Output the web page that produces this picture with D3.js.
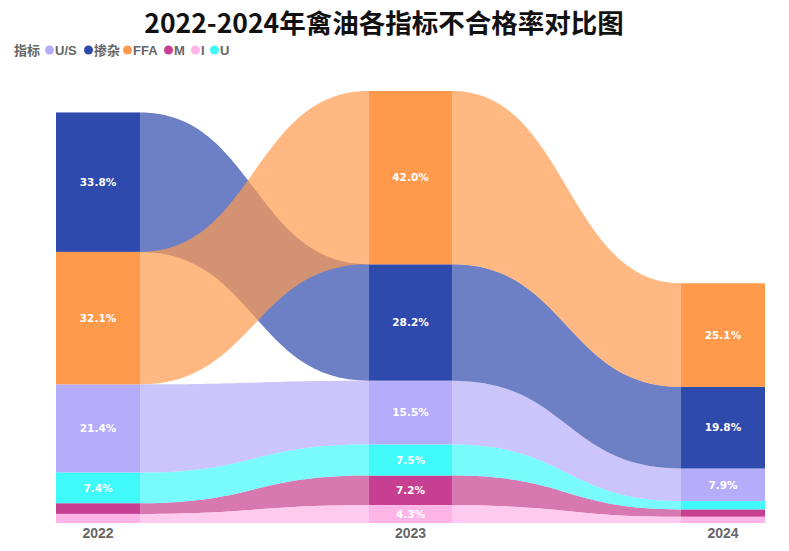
<!DOCTYPE html>
<html>
<head>
<meta charset="utf-8">
<script src="https://cdn.jsdelivr.net/npm/d3@7"></script>
<style>
  body { margin: 0; background: #fff; }
  svg text { font-family: "Liberation Sans", "Noto Sans CJK SC", sans-serif; }
</style>
</head>
<body>
<svg id="chart" width="789" height="551"></svg>
<script>
// ribbon chart: each year's stack is sorted big-to-small, ribbons link the same series
let years = ['2022', '2023', '2024'];
let keys = ['U/S', '掺杂', 'FFA', 'M', 'I', 'U'];
let colors = ['#b5acfa', '#2f4aad', '#ff9a4d', '#c63f90', '#ffb4e8', '#40f9f9'];

let vUS = [21.4, 15.5, 7.9];
let vMix = [33.8, 28.2, 19.8];
let vFFA = [32.1, 42.0, 25.1];
let vM = [2.6, 7.2, 1.8];
let vI = [2.2, 4.3, 1.5];
let vU = [7.4, 7.5, 2.0];
let values = [vUS, vMix, vFFA, vM, vI, vU];

let svg = d3.select('#chart');

let x = d3.scaleBand()
    .domain(years)
    .range([56, 765])
    .paddingInner(0.731)
    .paddingOuter(0);

let y = d3.scaleLinear()
    .domain([0, 104.7])
    .range([523, 91]);

let color = d3.scaleOrdinal().domain(keys).range(colors);

// stack per year, largest on top
let pos = {};   // pos[key][yearIndex] = {lo, hi, v}
keys.forEach(k => pos[k] = []);
years.forEach((yr, j) => {
    let order = keys.slice().sort((a, b) => values[keys.indexOf(b)][j] - values[keys.indexOf(a)][j]);
    let acc = 0;
    order.slice().reverse().forEach(k => {
        let v = values[keys.indexOf(k)][j];
        pos[k][j] = { lo: acc, hi: acc + v, v: v };
        acc += v;
    });
});

// ribbons
let ribbons = svg.append('g');
keys.forEach(k => {
    for (let j = 0; j < years.length - 1; j++) {
        let a = pos[k][j], b = pos[k][j + 1];
        let x0 = x(years[j]) + x.bandwidth();
        let x1 = x(years[j + 1]);
        let xm = (x0 + x1) / 2;
        let p = d3.path();
        p.moveTo(x0, y(a.hi));
        p.bezierCurveTo(xm, y(a.hi), xm, y(b.hi), x1, y(b.hi));
        p.lineTo(x1, y(b.lo));
        p.bezierCurveTo(xm, y(b.lo), xm, y(a.lo), x0, y(a.lo));
        p.closePath();
        ribbons.append('path')
            .attr('d', p.toString())
            .attr('fill', color(k))
            .attr('fill-opacity', 0.7);
    }
});

// bars
let bars = svg.append('g');
keys.forEach(k => {
    years.forEach((yr, j) => {
        let s = pos[k][j];
        bars.append('rect')
            .attr('x', x(yr))
            .attr('y', y(s.hi))
            .attr('width', x.bandwidth())
            .attr('height', y(s.lo) - y(s.hi))
            .attr('fill', color(k));
        if (s.v >= 4) {
            bars.append('text')
                .attr('x', x(yr) + x.bandwidth() / 2)
                .attr('y', (y(s.lo) + y(s.hi)) / 2)
                .attr('dy', '0.36em')
                .attr('text-anchor', 'middle')
                .attr('fill', '#fff')
                .style('font-family', '"DejaVu Sans", sans-serif')
                .style('font-size', '10.5px')
                .style('font-weight', 'bold')
                .text(s.v.toFixed(1) + '%');
        }
    });
});

// x axis
let xAxis = d3.axisBottom(x).tickSize(0).tickPadding(5);
let $xAxis = svg.append('g')
    .attr('transform', 'translate(0, 523)')
    .call(xAxis);
$xAxis.select('.domain').remove();
$xAxis.selectAll('text')
    .attr('fill', '#666')
    .style('font-family', '"Liberation Sans", sans-serif')
    .style('font-size', '14px')
    .style('font-weight', 'bold');

// title
svg.append('text')
    .attr('x', 384)
    .attr('y', 33)
    .attr('text-anchor', 'middle')
    .attr('fill', '#111')
    .style('font-family', '"Noto Sans CJK SC", sans-serif')
    .style('font-size', '26.5px')
    .style('font-weight', 'bold')
    .text('2022-2024年禽油各指标不合格率对比图');

// legend
let legend = svg.append('g').attr('transform', 'translate(14, 50)');
legend.append('text')
    .attr('x', 0)
    .attr('y', 4.5)
    .attr('fill', '#666')
    .style('font-size', '13px')
    .style('font-weight', 'bold')
    .text('指标');
let lx = [35.5, 74.5, 113.5, 154.5, 181.5, 200.5];
let item = legend.selectAll('g.item')
    .data(keys)
    .enter()
    .append('g')
    .attr('class', 'item')
    .attr('transform', (d, i) => `translate(${lx[i]}, 0)`);
item.append('circle')
    .attr('r', 4.5)
    .attr('cx', 0)
    .attr('cy', 0)
    .attr('fill', d => color(d));
item.append('text')
    .attr('x', 5.5)
    .attr('y', 4.5)
    .attr('fill', '#666')
    .style('font-size', '13px')
    .style('font-weight', 'bold')
    .text(d => d);
</script>
</body>
</html>
